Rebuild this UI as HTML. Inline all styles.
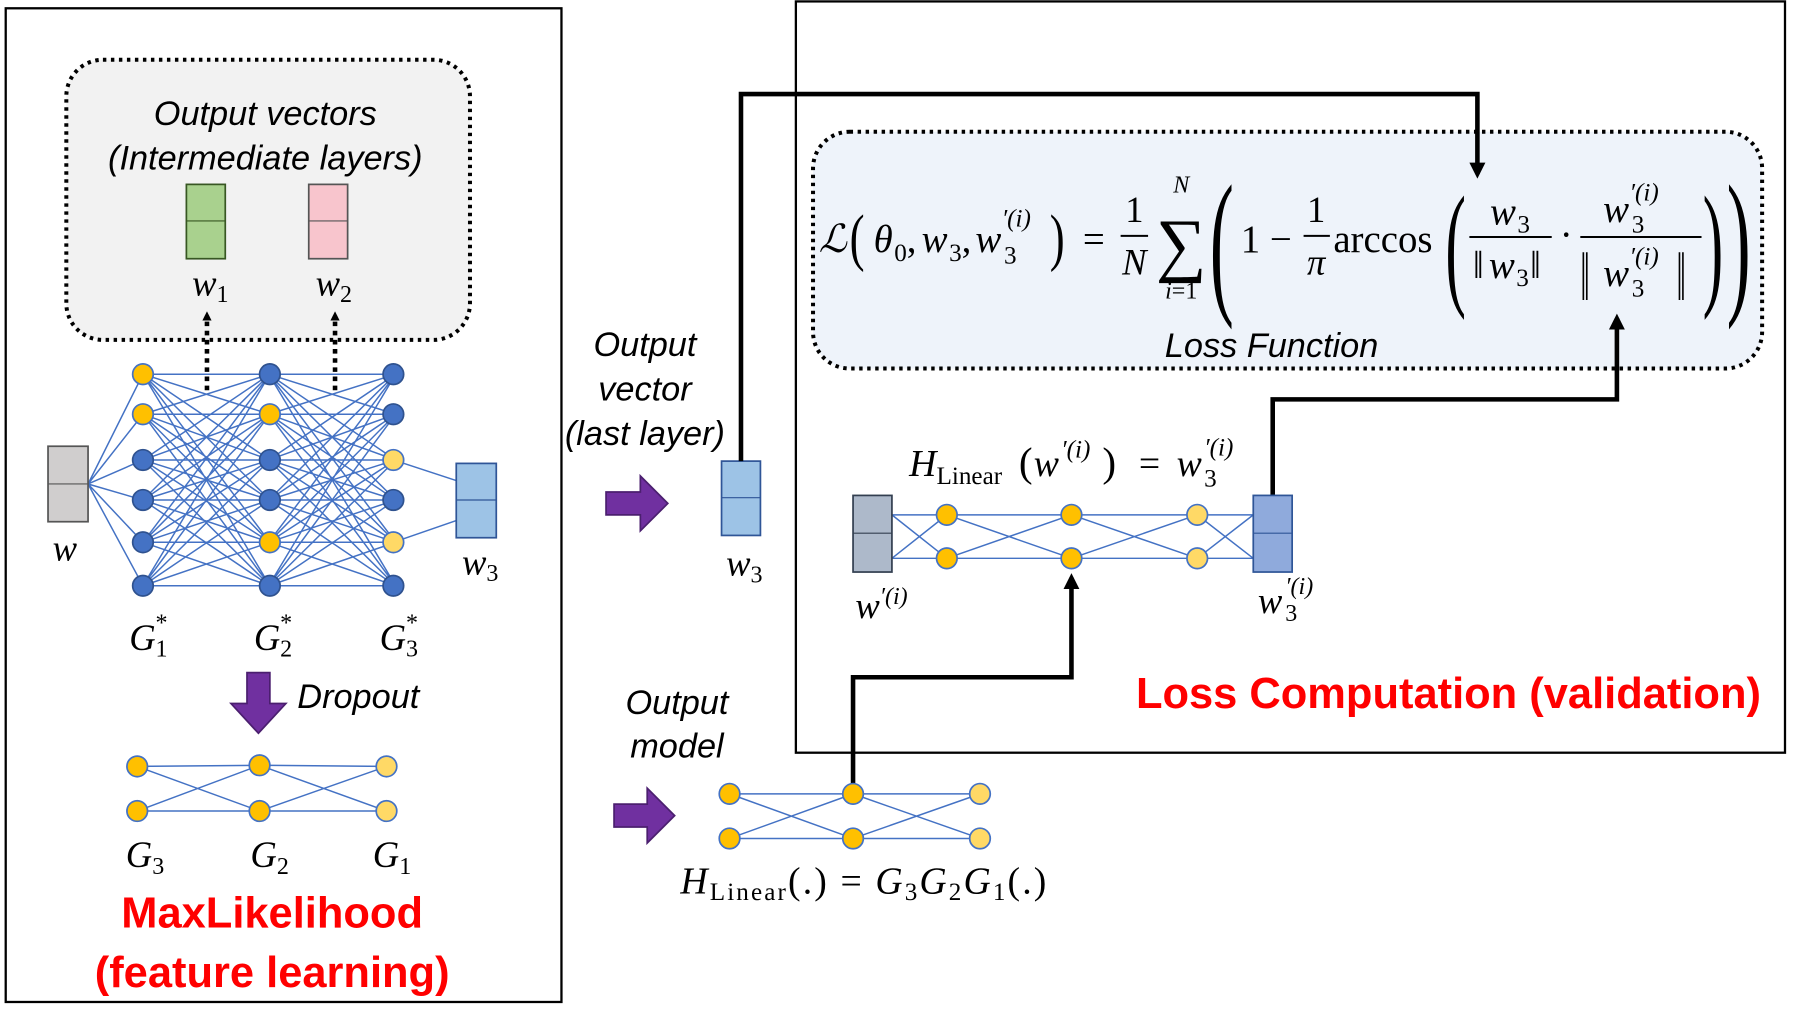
<!DOCTYPE html>
<html><head><meta charset="utf-8"><style>
html,body{margin:0;padding:0;background:#fff;}
svg{display:block;}
.it{font-family:"Liberation Sans",sans-serif;font-style:italic;font-size:30px;fill:#000;}
.m{font-family:"Liberation Serif",serif;font-style:italic;fill:#000;}
.r{font-family:"Liberation Serif",serif;fill:#000;}
.red{font-family:"Liberation Sans",sans-serif;font-weight:bold;fill:#ff0000;font-size:38px;}
.e{stroke:#4472c4;stroke-width:1.3;fill:none;}
.y{fill:#ffc000;stroke:#4472c4;stroke-width:1.5;}
.ly{fill:#ffd966;stroke:#4472c4;stroke-width:1.5;}
.b{fill:#4472c4;stroke:#2f528f;stroke-width:1.5;}
</style></head><body>
<svg width="1793" height="1032" viewBox="0 0 1568 902" xmlns="http://www.w3.org/2000/svg">
<defs>
<marker id="ah" markerWidth="8" markerHeight="8" refX="4" refY="4" orient="auto" markerUnits="userSpaceOnUse" viewBox="0 0 8 8"><path d="M0,0 L8,4 L0,8 z" fill="#000"/></marker>
<marker id="ab" markerWidth="14" markerHeight="14" refX="10" refY="7" orient="auto" markerUnits="userSpaceOnUse"><path d="M0,0 L14,7 L0,14 z" fill="#000"/></marker>
<g id="full">
<path class="e" d="M125 327L236 327M125 327L236 362M125 327L236 402M125 327L236 437M125 327L236 474M125 327L236 512
M125 362L236 327M125 362L236 362M125 362L236 402M125 362L236 437M125 362L236 474M125 362L236 512
M125 402L236 327M125 402L236 362M125 402L236 402M125 402L236 437M125 402L236 474M125 402L236 512
M125 437L236 327M125 437L236 362M125 437L236 402M125 437L236 437M125 437L236 474M125 437L236 512
M125 474L236 327M125 474L236 362M125 474L236 402M125 474L236 437M125 474L236 474M125 474L236 512
M125 512L236 327M125 512L236 362M125 512L236 402M125 512L236 437M125 512L236 474M125 512L236 512"/>
</g>
</defs>
<rect width="1568" height="902" fill="#fff"/>
<rect x="5" y="7" width="486" height="869" fill="none" stroke="#000" stroke-width="2"/>
<rect x="696" y="1" width="865" height="657" fill="none" stroke="#000" stroke-width="2"/>

<rect x="58" y="52" width="353" height="245" rx="32" fill="#f2f2f2" stroke="#000" stroke-width="3.5" stroke-dasharray="3,4"/>
<text class="it" x="232" y="109" text-anchor="middle">Output vectors</text>
<text class="it" x="232" y="148" text-anchor="middle">(Intermediate layers)</text>
<rect x="163" y="161" width="34" height="65" fill="#a9d18e" stroke="#385723" stroke-width="1.5"/><line x1="163" y1="193" x2="197" y2="193" stroke="#385723"/>
<rect x="270" y="161" width="34" height="65" fill="#f8c5cd" stroke="#555" stroke-width="1.5"/><line x1="270" y1="193" x2="304" y2="193" stroke="#555"/>
<text class="m" x="168" y="258" font-size="32">w<tspan font-size="21" font-style="normal" dy="6">1</tspan></text>
<text class="m" x="276" y="258" font-size="32">w<tspan font-size="21" font-style="normal" dy="6">2</tspan></text>
<line x1="181" y1="341" x2="181" y2="276" stroke="#000" stroke-width="4" stroke-dasharray="4,4" marker-end="url(#ah)"/>
<line x1="293" y1="341" x2="293" y2="276" stroke="#000" stroke-width="4" stroke-dasharray="4,4" marker-end="url(#ah)"/>

<path class="e" d="M77 423L125 327M77 423L125 362M77 423L125 402M77 423L125 437M77 423L125 474M77 423L125 512M344 402L399 420M344 474L399 455"/>
<use href="#full"/>
<use href="#full" transform="translate(110,0)"/>
<rect x="42" y="390" width="35" height="66" fill="#d0cece" stroke="#555" stroke-width="1.5"/><line x1="42" y1="423" x2="77" y2="423" stroke="#555"/>
<rect x="399" y="405" width="35" height="65" fill="#9dc3e6" stroke="#2f5597" stroke-width="1.5"/><line x1="399" y1="437" x2="434" y2="437" stroke="#2f5597"/>
<g>
<circle class="y" cx="125" cy="327" r="9"/><circle class="y" cx="125" cy="362" r="9"/><circle class="b" cx="125" cy="402" r="9"/><circle class="b" cx="125" cy="437" r="9"/><circle class="b" cx="125" cy="474" r="9"/><circle class="b" cx="125" cy="512" r="9"/>
<circle class="b" cx="236" cy="327" r="9"/><circle class="y" cx="236" cy="362" r="9"/><circle class="b" cx="236" cy="402" r="9"/><circle class="b" cx="236" cy="437" r="9"/><circle class="y" cx="236" cy="474" r="9"/><circle class="b" cx="236" cy="512" r="9"/>
<circle class="b" cx="344" cy="327" r="9"/><circle class="b" cx="344" cy="362" r="9"/><circle class="ly" cx="344" cy="402" r="9"/><circle class="b" cx="344" cy="437" r="9"/><circle class="ly" cx="344" cy="474" r="9"/><circle class="b" cx="344" cy="512" r="9"/>
</g>
<text class="m" x="46" y="490" font-size="32">w</text>
<text class="m" x="404" y="502" font-size="32">w<tspan font-size="21" font-style="normal" dy="6">3</tspan></text>
<text class="m" x="113" y="568" font-size="32">G</text><text class="r" x="136" y="574" font-size="21">1</text><text class="r" x="136" y="551" font-size="21">*</text>
<text class="m" x="222" y="568" font-size="32">G</text><text class="r" x="245" y="574" font-size="21">2</text><text class="r" x="245" y="551" font-size="21">*</text>
<text class="m" x="332" y="568" font-size="32">G</text><text class="r" x="355" y="574" font-size="21">3</text><text class="r" x="355" y="551" font-size="21">*</text>
<path d="M216 588 H236 V615 H250 L226 641 L202 615 H216 Z" fill="#7030a0" stroke="#4b1f6f" stroke-width="1.5"/>
<text class="it" x="260" y="619">Dropout</text>
<path class="e" d="M120 670L227 669M120 670L227 709M120 709L227 669M120 709L227 709M227 669L338 670M227 669L338 709M227 709L338 670M227 709L338 709"/>
<circle class="y" cx="120" cy="670" r="9"/><circle class="y" cx="120" cy="709" r="9"/><circle class="y" cx="227" cy="669" r="9"/><circle class="y" cx="227" cy="709" r="9"/><circle class="ly" cx="338" cy="670" r="9"/><circle class="ly" cx="338" cy="709" r="9"/>
<text class="m" x="110" y="758" font-size="32">G<tspan font-size="21" font-style="normal" dy="6">3</tspan></text>
<text class="m" x="219" y="758" font-size="32">G<tspan font-size="21" font-style="normal" dy="6">2</tspan></text>
<text class="m" x="326" y="758" font-size="32">G<tspan font-size="21" font-style="normal" dy="6">1</tspan></text>
<text class="red" x="238" y="811" text-anchor="middle">MaxLikelihood</text>
<text class="red" x="238" y="863" text-anchor="middle">(feature learning)</text>

<text class="it" x="564" y="311" text-anchor="middle">Output</text>
<text class="it" x="564" y="350" text-anchor="middle">vector</text>
<text class="it" x="564" y="389" text-anchor="middle">(last layer)</text>
<path d="M530 430 H560 V416 L584 440 L560 464 V450 H530 Z" fill="#7030a0" stroke="#4b1f6f" stroke-width="1.5"/>
<rect x="631" y="403" width="34" height="65" fill="#9dc3e6" stroke="#2f5597" stroke-width="1.5"/><line x1="631" y1="435" x2="665" y2="435" stroke="#2f5597"/>
<text class="m" x="635" y="503" font-size="32">w<tspan font-size="21" font-style="normal" dy="6">3</tspan></text>

<text class="it" x="592" y="624" text-anchor="middle">Output</text>
<text class="it" x="592" y="662" text-anchor="middle">model</text>
<path d="M537 703 H566 V689 L590 713 L566 737 V723 H537 Z" fill="#7030a0" stroke="#4b1f6f" stroke-width="1.5"/>
<path class="e" d="M638 694L746 694M638 694L746 733M638 733L746 694M638 733L746 733M746 694L857 694M746 694L857 733M746 733L857 694M746 733L857 733"/>
<path d="M746 694 V592 H937 V505" fill="none" stroke="#000" stroke-width="4" marker-end="url(#ab)"/>
<circle class="y" cx="638" cy="694" r="9"/><circle class="y" cx="638" cy="733" r="9"/><circle class="y" cx="746" cy="694" r="9"/><circle class="y" cx="746" cy="733" r="9"/><circle class="ly" cx="857" cy="694" r="9"/><circle class="ly" cx="857" cy="733" r="9"/>
<text class="m" x="595" y="781" font-size="33" textLength="320" lengthAdjust="spacing">H<tspan font-style="normal" font-size="22" dy="6">Linear</tspan><tspan font-style="normal" dy="-6">(.) = </tspan>G<tspan font-style="normal" font-size="22" dy="6">3</tspan><tspan dy="-6">G</tspan><tspan font-style="normal" font-size="22" dy="6">2</tspan><tspan dy="-6">G</tspan><tspan font-style="normal" font-size="22" dy="6">1</tspan><tspan font-style="normal" dy="-6">(.)</tspan></text>

<rect x="711" y="115" width="830" height="207" rx="32" fill="#eef3fa" stroke="#000" stroke-width="3.5" stroke-dasharray="3,4"/>
<path d="M648 403 V82 H1292 V152" fill="none" stroke="#000" stroke-width="4" marker-end="url(#ab)"/>
<text class="it" x="1112" y="312" text-anchor="middle">Loss Function</text>
<g>
<text class="m" x="716" y="220" font-size="34">ℒ</text>
<text class="r" x="743" y="226" font-size="56" transform="translate(743,226) scale(0.7,1) translate(-743,-226)">(</text>
<text class="m" x="764" y="220" font-size="34">θ</text><text class="r" x="782" y="228" font-size="22">0</text>
<text class="r" x="793" y="220" font-size="34">,</text>
<text class="m" x="806" y="220" font-size="34">w</text><text class="r" x="830" y="228" font-size="22">3</text>
<text class="r" x="841" y="220" font-size="34">,</text>
<text class="m" x="853" y="220" font-size="34">w</text><text class="r" x="878" y="230" font-size="22">3</text>
<text class="m" x="876" y="198" font-size="22">′(i)</text>
<text class="r" x="918" y="226" font-size="56" transform="translate(918,226) scale(0.7,1) translate(-918,-226)">)</text>
<text class="r" x="947" y="220" font-size="34">=</text>
<text class="r" x="992" y="194" font-size="32" text-anchor="middle">1</text>
<line x1="980" y1="206" x2="1004" y2="206" stroke="#000" stroke-width="1.8"/>
<text class="m" x="992" y="240" font-size="32" text-anchor="middle">N</text>
<text class="r" x="1033" y="234" font-size="62" text-anchor="middle">∑</text>
<text class="m" x="1033" y="168" font-size="21" text-anchor="middle">N</text>
<text class="m" x="1033" y="261" font-size="21" text-anchor="middle">i<tspan font-style="normal">=1</tspan></text>
<text class="r" x="1058" y="258" font-size="140" transform="translate(1058,258) scale(0.45,1) translate(-1058,-258)">(</text>
<text class="r" x="1085" y="220" font-size="34">1 −</text>
<text class="r" x="1151" y="194" font-size="32" text-anchor="middle">1</text>
<line x1="1140" y1="206" x2="1163" y2="206" stroke="#000" stroke-width="1.8"/>
<text class="m" x="1151" y="240" font-size="32" text-anchor="middle">π</text>
<text class="r" x="1166" y="220" font-size="34">arccos</text>
<text class="r" x="1264" y="254" font-size="120" transform="translate(1264,254) scale(0.45,1) translate(-1264,-254)">(</text>
<text class="m" x="1303" y="196" font-size="34">w</text><text class="r" x="1327" y="203" font-size="22">3</text>
<line x1="1285" y1="207" x2="1357" y2="207" stroke="#000" stroke-width="1.8"/>
<text class="r" x="1288" y="243" font-size="34">‖</text><text class="m" x="1302" y="243" font-size="34">w</text><text class="r" x="1326" y="250" font-size="22">3</text><text class="r" x="1338" y="243" font-size="34">‖</text>
<text class="r" x="1364" y="216" font-size="34">·</text>
<text class="m" x="1402" y="194" font-size="34">w</text><text class="r" x="1427" y="203" font-size="22">3</text><text class="m" x="1425" y="175" font-size="22">′(i)</text>
<line x1="1382" y1="207" x2="1488" y2="207" stroke="#000" stroke-width="1.8"/>
<text class="r" x="1382" y="262" font-size="60" transform="translate(1382,262) scale(0.5,1) translate(-1382,-262)">‖</text>
<text class="m" x="1402" y="250" font-size="34">w</text><text class="r" x="1427" y="259" font-size="22">3</text><text class="m" x="1425" y="231" font-size="22">′(i)</text>
<text class="r" x="1466" y="262" font-size="60" transform="translate(1466,262) scale(0.5,1) translate(-1466,-262)">‖</text>
<text class="r" x="1489" y="254" font-size="120" transform="translate(1489,254) scale(0.45,1) translate(-1489,-254)">)</text>
<text class="r" x="1510" y="258" font-size="140" transform="translate(1510,258) scale(0.45,1) translate(-1510,-258)">)</text>
</g>
<path d="M1113 433 V349 H1414 V278" fill="none" stroke="#000" stroke-width="4" marker-end="url(#ab)"/>

<path class="e" d="M780 450L828 450M780 450L828 488M780 488L828 450M780 488L828 488M828 450L937 450M828 450L937 488M828 488L937 450M828 488L937 488M937 450L1047 450M937 450L1047 488M937 488L1047 450M937 488L1047 488M1047 450L1096 450M1047 450L1096 488M1047 488L1096 450M1047 488L1096 488"/>
<rect x="746" y="433" width="34" height="67" fill="#adb9ca" stroke="#333f50" stroke-width="1.5"/><line x1="746" y1="466" x2="780" y2="466" stroke="#333f50"/>
<rect x="1096" y="433" width="34" height="67" fill="#8faadc" stroke="#2f5597" stroke-width="1.5"/><line x1="1096" y1="466" x2="1130" y2="466" stroke="#2f5597"/>
<circle class="y" cx="828" cy="450" r="9"/><circle class="y" cx="828" cy="488" r="9"/><circle class="y" cx="937" cy="450" r="9"/><circle class="y" cx="937" cy="488" r="9"/><circle class="ly" cx="1047" cy="450" r="9"/><circle class="ly" cx="1047" cy="488" r="9"/>
<text class="m" x="795" y="416" font-size="33">H</text>
<text class="r" x="819" y="423" font-size="22">Linear</text>
<text class="r" x="891" y="416" font-size="36">(</text>
<text class="m" x="904" y="416" font-size="33">w</text>
<text class="m" x="928" y="400" font-size="22">′(i)</text>
<text class="r" x="964" y="416" font-size="36">)</text>
<text class="r" x="996" y="416" font-size="33">=</text>
<text class="m" x="1029" y="416" font-size="33">w</text>
<text class="r" x="1053" y="425" font-size="22">3</text>
<text class="m" x="1053" y="398" font-size="22">′(i)</text>
<text class="m" x="748" y="540" font-size="32">w<tspan font-size="21" dy="-12">′(i)</tspan></text>
<text class="m" x="1100" y="536" font-size="32">w</text><text class="r" x="1124" y="543" font-size="21">3</text><text class="m" x="1124" y="519" font-size="21">′(i)</text>
<text class="red" x="1540" y="619" text-anchor="end">Loss Computation (validation)</text>
</svg>
</body></html>
